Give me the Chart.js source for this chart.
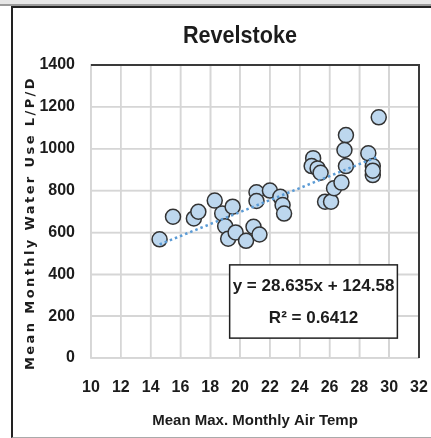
<!DOCTYPE html>
<html>
<head>
<meta charset="utf-8">
<script src="https://cdn.jsdelivr.net/npm/chart.js@4"></script>
<style>
  html, body { margin: 0; padding: 0; background: #fff; }
  #wrap { position: relative; width: 431px; height: 438px; overflow: hidden; }
  #strip { position: absolute; left: 0; top: 0; width: 431px; height: 4px; background: #e6e6e6; border-bottom: 2px solid #9a9a9a; }
  #frame { position: absolute; left: 11px; top: 6px; width: 430px; height: 429px;
           border-left: 2px solid #222; border-top: 2px solid #222; border-bottom: 1px solid #aaa; }
  #scatterChart { position: absolute; left: 0; top: 0; }
  #title { position: absolute; left: 140px; top: 20px; width: 200px; text-align: center;
           font: bold 24px 'Liberation Sans', Arial, sans-serif; color: #1c1c1c;
           transform: scaleX(0.9); line-height: 30px; }
  #ytitle { position: absolute; left: -170px; top: 213px; width: 400px; text-align: center;
            font: bold 13px 'DejaVu Sans', Verdana, sans-serif; letter-spacing: 2.4px; color: #1c1c1c;
            transform: rotate(-90deg); line-height: 20px; }
</style>
</head>
<body>
<div id="wrap">
  <div id="strip"></div>
  <div id="frame"></div>
  <canvas id="scatterChart" width="431" height="438"></canvas>
  <div id="title">Revelstoke</div>
  <div id="ytitle">Mean Monthly Water Use L/P/D</div>
</div>
<script>
// Revelstoke - monthly water use vs mean max monthly air temp
var temps = [14.6, 15.5, 16.9, 17.2, 18.3, 18.8, 19.0, 19.2, 19.5, 19.7, 20.4, 20.9,
             21.1, 21.1, 21.3, 22.0, 22.7, 22.85, 22.95, 24.9, 24.8, 25.2, 25.4, 25.7,
             26.1, 26.3, 26.8, 27.1, 27.0, 27.1, 29.3, 28.6, 28.9, 28.9, 28.9];
var waterUse = [567, 675, 667, 699, 752, 691, 630, 570, 723, 600, 560, 627,
                792, 750, 590, 800, 770, 731, 690, 955, 917, 906, 885, 747,
                747, 811, 838, 1065, 994, 917, 1150, 978, 917, 874, 895];
var xTicks = [10, 12, 14, 16, 18, 20, 22, 24, 26, 28, 30, 32];
var yTicks = [0, 200, 400, 600, 800, 1000, 1200, 1400];
var slope = 28.635;
var intercept = 124.58;
var eqLabel = 'y = 28.635x + 124.58';
var r2Label = 'R² = 0.6412';

var sans = "'Liberation Sans', Arial, sans-serif";
var textColor = '#1c1c1c';
var gridColor = '#d6d6d6';

var points = temps.map(function (t, i) { return { x: t, y: waterUse[i] }; });
var xMin = Math.min.apply(null, temps);
var xMax = Math.max.apply(null, temps);
var trend = [
  { x: xMin, y: slope * xMin + intercept },
  { x: xMax, y: slope * xMax + intercept }
];

var plotPlugin = {
  id: 'plotDeco',
  beforeDatasetsDraw: function (chart) {
    var a = chart.chartArea, c = chart.ctx;
    var xs = chart.scales.x, ys = chart.scales.y;
    c.save();
    // gridlines at the tick values
    c.strokeStyle = gridColor;
    c.lineWidth = 1.5;
    c.beginPath();
    xTicks.forEach(function (v) {
      var px = xs.getPixelForValue(v);
      c.moveTo(px, a.top);
      c.lineTo(px, a.bottom);
    });
    yTicks.forEach(function (v) {
      var py = ys.getPixelForValue(v);
      c.moveTo(a.left, py);
      c.lineTo(a.right, py);
    });
    c.stroke();
    // dark top / right edge
    c.strokeStyle = '#3a3a3a';
    c.lineWidth = 2;
    c.beginPath();
    c.moveTo(a.left, a.top);
    c.lineTo(a.right, a.top);
    c.lineTo(a.right, a.bottom);
    c.stroke();
    c.restore();
  },
  afterDatasetsDraw: function (chart) {
    var xs = chart.scales.x, ys = chart.scales.y, c = chart.ctx;
    var l = xs.getPixelForValue(19.3), r = xs.getPixelForValue(30.55);
    var t = ys.getPixelForValue(445), b = ys.getPixelForValue(95);
    c.save();
    c.fillStyle = '#fff';
    c.fillRect(l, t, r - l, b - t);
    c.strokeStyle = '#222';
    c.lineWidth = 1.5;
    c.strokeRect(l, t, r - l, b - t);
    c.fillStyle = textColor;
    c.font = 'bold 17px ' + sans;
    c.textAlign = 'center';
    c.textBaseline = 'middle';
    c.fillText(eqLabel, (l + r) / 2, t + 21);
    c.fillText(r2Label, (l + r) / 2, t + 53);
    c.restore();
  }
};

var scatterChart = new Chart(document.getElementById('scatterChart'), {
  type: 'scatter',
  data: {
    datasets: [{
      type: 'line',
      data: trend,
      borderColor: '#5b9bd5',
      borderWidth: 2.5,
      borderDash: [2.5, 3],
      pointRadius: 0,
      fill: false,
      order: 0
    }, {
      data: points,
      backgroundColor: '#bdd7ee',
      borderColor: '#333',
      borderWidth: 1.5,
      pointRadius: 7.5,
      pointHoverRadius: 7.5,
      order: 1
    }]
  },
  plugins: [plotPlugin],
  options: {
    responsive: false,
    animation: false,
    layout: { padding: { left: 14, right: 12, top: 65, bottom: 0 } },
    plugins: {
      legend: { display: false },
      tooltip: { enabled: false }
    },
    scales: {
      x: {
        type: 'linear',
        min: 10,
        max: 32,
        afterFit: function (scale) {
          scale.height = 80;
          scale.paddingLeft = 0;
          scale.paddingRight = 0;
        },
        afterBuildTicks: function (scale) {
          scale.ticks = xTicks.map(function (v) { return { value: v }; });
        },
        grid: { color: gridColor, lineWidth: 1.5, drawTicks: false },
        border: { color: gridColor, width: 1.5 },
        ticks: {
          color: textColor,
          padding: 20,
          callback: function (v) { return String(v); },
          font: { family: sans, size: 16, weight: 'bold' }
        },
        title: {
          display: true,
          text: 'Mean Max. Monthly Air Temp',
          color: textColor,
          padding: { top: 0, bottom: 8 },
          font: { family: sans, size: 15, weight: 'bold' }
        }
      },
      y: {
        type: 'linear',
        min: 0,
        max: 1400,
        afterFit: function (scale) { scale.width = 77; },
        afterBuildTicks: function (scale) {
          scale.ticks = yTicks.map(function (v) { return { value: v }; });
        },
        grid: { color: gridColor, lineWidth: 1.5, drawTicks: false },
        border: { color: gridColor, width: 1.5 },
        ticks: {
          color: textColor,
          padding: 16,
          callback: function (v) { return String(v); },
          font: { family: sans, size: 16, weight: 'bold' }
        }
      }
    }
  }
});
</script>
</body>
</html>
